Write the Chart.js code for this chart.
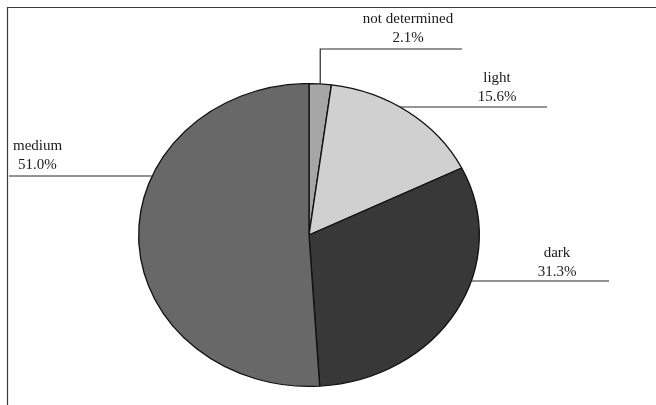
<!DOCTYPE html>
<html>
<head>
<meta charset="utf-8">
<script src="https://cdn.jsdelivr.net/npm/chart.js@4/dist/chart.umd.min.js"></script>
<style>
  html, body { margin: 0; padding: 0; background: #fff; }
  #wrap { position: relative; width: 656px; height: 405px; }
  canvas { display: block; }
</style>
</head>
<body>
<div id="wrap"><canvas id="c" width="656" height="405"></canvas></div>
<script>
// Share of samples by colour class
const categories = ['not determined', 'light', 'dark', 'medium'];
const shares = [2.1, 15.6, 31.3, 51.0];
const sliceColors = ['#a6a6a6', '#d0d0d0', '#383838', '#686868'];

// Pie is drawn as an ellipse: stretched horizontally around its centre
const STRETCH_X = 1.125;
const FONT = '15px "Liberation Serif", "Times New Roman", serif';

// Label layout: text anchor, text alignment and leader line
const labelLayout = [
  { text: [408, 19], align: 'center', kind: 'elbow', elbowY: 49, endX: 462 },
  { text: [497, 78], align: 'center', kind: 'right', lineY: 107, endX: 547 },
  { text: [557, 253], align: 'center', kind: 'right', lineY: 281, endX: 609 },
  { text: [13, 146], align: 'left', kind: 'left', lineY: 176, endX: 9, indent: [0, 5] }
];

const ellipsePlugin = {
  id: 'ellipse',
  beforeDatasetsDraw(chart) {
    const arc = chart.getDatasetMeta(0).data[0];
    const ctx = chart.ctx;
    ctx.save();
    ctx.translate(arc.x, 0);
    ctx.scale(STRETCH_X, 1);
    ctx.translate(-arc.x, 0);
  },
  afterDatasetsDraw(chart) {
    chart.ctx.restore();
  }
};

const framePlugin = {
  id: 'frame',
  beforeDraw(chart) {
    const ctx = chart.ctx;
    ctx.save();
    ctx.fillStyle = '#ffffff';
    ctx.fillRect(0, 0, chart.width, chart.height);
    ctx.strokeStyle = '#3a3a3a';
    ctx.lineWidth = 1.2;
    ctx.beginPath();
    ctx.moveTo(7.5, chart.height);
    ctx.lineTo(7.5, 7.5);
    ctx.lineTo(chart.width, 7.5);
    ctx.stroke();
    ctx.restore();
  }
};

const labelPlugin = {
  id: 'pieLabels',
  afterDraw(chart) {
    const ctx = chart.ctx;
    const meta = chart.getDatasetMeta(0);
    ctx.save();
    ctx.font = FONT;
    ctx.fillStyle = '#1a1a1a';
    ctx.strokeStyle = '#2a2a2a';
    ctx.lineWidth = 1.2;
    meta.data.forEach((arc, i) => {
      const L = labelLayout[i];
      const cx = arc.x, cy = arc.y, r = arc.outerRadius;
      ctx.beginPath();
      if (L.kind === 'elbow') {
        const mid = (arc.startAngle + arc.endAngle) / 2;
        const px = cx + STRETCH_X * r * Math.cos(mid);
        const py = cy + r * Math.sin(mid);
        ctx.moveTo(px, py);
        ctx.lineTo(px, L.elbowY);
        ctx.lineTo(L.endX, L.elbowY);
      } else {
        const dy = L.lineY - cy;
        const dx = STRETCH_X * Math.sqrt(Math.max(r * r - dy * dy, 0));
        const px = L.kind === 'right' ? cx + dx : cx - dx;
        ctx.moveTo(px, L.lineY);
        ctx.lineTo(L.endX, L.lineY);
      }
      ctx.stroke();
      ctx.textAlign = L.align;
      ctx.textBaseline = 'middle';
      const ind = L.indent || [0, 0];
      ctx.fillText(categories[i], L.text[0] + ind[0], L.text[1]);
      ctx.fillText(shares[i].toFixed(1) + '%', L.text[0] + ind[1], L.text[1] + 19);
    });
    ctx.restore();
  }
};

new Chart(document.getElementById('c'), {
  type: 'pie',
  data: {
    labels: categories,
    datasets: [{
      data: shares,
      backgroundColor: sliceColors,
      borderColor: '#111111',
      borderWidth: 1.2,
      hoverOffset: 0
    }]
  },
  options: {
    responsive: false,
    animation: false,
    events: [],
    layout: { padding: { top: 83, bottom: 18, left: 155, right: 193 } },
    plugins: {
      legend: { display: false },
      tooltip: { enabled: false }
    }
  },
  plugins: [framePlugin, ellipsePlugin, labelPlugin]
});
</script>
</body>
</html>
